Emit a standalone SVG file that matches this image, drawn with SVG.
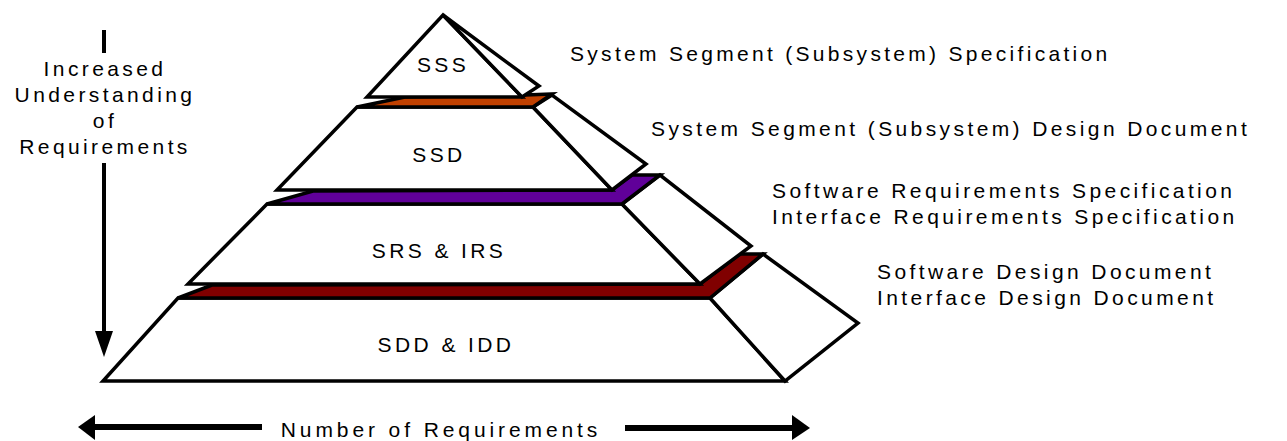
<svg xmlns="http://www.w3.org/2000/svg" width="1287" height="441" viewBox="0 0 1287 441">
<style>
.face{fill:#fff;stroke:#000;stroke-width:3.5;stroke-linejoin:miter}
.band{stroke:#000;stroke-width:3.5;stroke-linejoin:miter}
.t{font-family:"Liberation Sans",Arial,sans-serif;font-size:21px;letter-spacing:3.4px;fill:#000}
.c{text-anchor:middle}
.ln{stroke:#000;fill:none}
</style>
<rect width="1287" height="441" fill="#fff"/>

<g id="layer-sdd">
<polygon class="face" points="178,298 710,298 785,381 103,381"/>
<polygon class="face" points="710,298 763,254 858,323 785,381"/>
<polygon class="band" fill="#800000" points="178,298 212,285 700,284 740,254 763,254 710,298"/>
<text class="t c" x="446" y="352">SDD &amp; IDD</text>
</g>

<g id="layer-srs">
<polygon class="face" points="267,204 622,204 700,284 188,284"/>
<polygon class="face" points="622,204 660,175 751,246 700,284"/>
<polygon class="band" fill="#600099" points="267,204 313,191 612,190 632,175 660,175 622,204"/>
<text class="t c" x="439" y="258">SRS &amp; IRS</text>
</g>

<g id="layer-ssd">
<polygon class="face" points="357,107 533,107 612,190 277,190"/>
<polygon class="face" points="533,107 552,95 646,164 612,190"/>
<polygon class="band" fill="#C04000" points="357,107 405,97 525,95 552,94 533,107"/>
<text class="t c" x="439" y="162">SSD</text>
</g>

<g id="layer-sss">
<polygon class="face" points="443,15 522,97 367,97"/>
<polygon class="face" points="443,15 539,86 522,97"/>
<text class="t c" x="443" y="72">SSS</text>
</g>

<g id="labels">
<text class="t" x="570" y="61" style="letter-spacing:3.3px">System Segment (Subsystem) Specification</text>
<text class="t" x="651" y="136">System Segment (Subsystem) Design Document</text>
<text class="t" x="772" y="198">Software Requirements Specification</text>
<text class="t" x="772" y="224">Interface Requirements Specification</text>
<text class="t" x="877" y="279">Software Design Document</text>
<text class="t" x="877" y="305">Interface Design Document</text>
</g>

<g id="axis-understanding">
<text class="t c" x="105" y="76">Increased</text>
<text class="t c" x="105" y="102">Understanding</text>
<text class="t c" x="105" y="128">of</text>
<text class="t c" x="105" y="154">Requirements</text>
</g>

<g id="axis-number">
<text class="t c" x="441" y="437" style="letter-spacing:3.9px">Number of Requirements</text>
</g>

<g id="connectors">
<line class="ln" x1="104" y1="30" x2="104" y2="53" stroke-width="4"/>
<line class="ln" x1="104" y1="163" x2="104" y2="333" stroke-width="4"/>
<polygon points="95,331 113,331 104,357" fill="#000"/>
<line class="ln" x1="93" y1="427" x2="262" y2="427" stroke-width="6"/>
<polygon points="78,427 95,415 95,440" fill="#000"/>
<line class="ln" x1="625" y1="428" x2="794" y2="428" stroke-width="6"/>
<polygon points="810,428 792,415 792,440" fill="#000"/>
</g>
</svg>
